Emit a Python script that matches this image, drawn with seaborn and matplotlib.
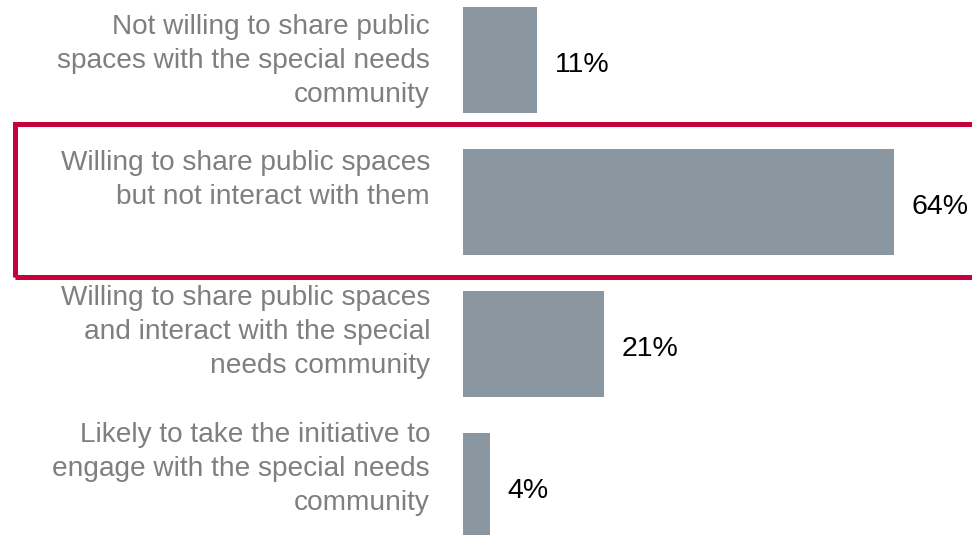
import matplotlib
matplotlib.use("Agg")
import matplotlib.pyplot as plt
from matplotlib.patches import Rectangle
import seaborn as sns
import pandas as pd

categories = [
    "Not willing to share public\nspaces with the special needs\ncommunity",
    "Willing to share public spaces\nbut not interact with them",
    "Willing to share public spaces\nand interact with the special\nneeds community",
    "Likely to take the initiative to\nengage with the special needs\ncommunity",
]
values = [11, 64, 21, 4]
value_labels = ["11%", "64%", "21%", "4%"]

# baseline offsets of the last label line relative to each bar centre (category units)
label_offsets = [0.296, 0.014, 0.204, 0.169]

BAR_COLOR = "#8B97A0"
LABEL_COLOR = "#7F7F7F"
RED = "#C8003C"
FONT = ["Liberation Sans", "Arial", "DejaVu Sans"]

sns.set_theme(style="white")
plt.rcParams["font.family"] = FONT

df = pd.DataFrame({"category": categories, "value": values})

W, H = 972, 535
fig = plt.figure(figsize=(W / 100, H / 100), dpi=100)
ax = fig.add_axes([463 / W, 0, 509 / W, 1])

sns.barplot(data=df, y="category", x="value", orient="h", color=BAR_COLOR,
            saturation=1, width=0.746, ax=ax, edgecolor="none")

ax.set_xlim(0, 509 / 6.734)
ax.set_ylim((H - 60) / 142, -60 / 142)
ax.set_xlabel("")
ax.set_ylabel("")
ax.set_xticks([])
ax.set_yticks([])
for s in ax.spines.values():
    s.set_visible(False)

# category labels
for i, (cat, off) in enumerate(zip(categories, label_offsets)):
    ax.text(-33 / 509, i + off, cat, transform=ax.get_yaxis_transform(),
            ha="right", va="baseline", fontsize=20.2, color=LABEL_COLOR,
            linespacing=1.41, multialignment="right")

# value labels
for i, (v, lab) in enumerate(zip(values, value_labels)):
    ax.annotate(lab, xy=(v, i), xytext=(12.5, -1.5), textcoords="offset points",
                ha="left", va="center_baseline", fontsize=20.5, color="black",
                annotation_clip=False)

# highlight rectangle around the second row
rect = Rectangle((14.5 / W, (H - 276.5) / H), 1.2, (276.5 - 124) / H,
                 transform=fig.transFigure, fill=False, edgecolor=RED,
                 linewidth=3.6, clip_on=False)
fig.patches.append(rect)

fig.savefig("out.png", dpi=100, facecolor="white")
